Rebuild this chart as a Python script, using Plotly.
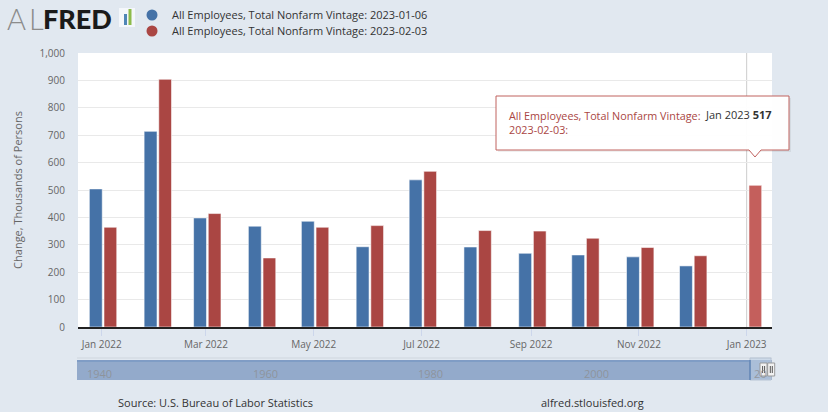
import plotly.graph_objects as go

# ---------------- data ----------------
months = ["2022-01-01", "2022-02-01", "2022-03-01", "2022-04-01", "2022-05-01", "2022-06-01",
          "2022-07-01", "2022-08-01", "2022-09-01", "2022-10-01", "2022-11-01", "2022-12-01",
          "2023-01-01"]
vintage_0106 = [504, 714, 398, 368, 386, 293, 537, 292, 269, 263, 256, 223, None]
vintage_0203 = [364, 904, 414, 252, 364, 370, 568, 352, 350, 324, 290, 260, 517]
name_0106 = "All Employees, Total Nonfarm Vintage: 2023-01-06"
name_0203 = "All Employees, Total Nonfarm Vintage: 2023-02-03"
tick_vals = ["2022-01-01", "2022-03-01", "2022-05-01", "2022-07-01", "2022-09-01",
             "2022-11-01", "2023-01-01"]
tick_text = ["Jan 2022", "Mar 2022", "May 2022", "Jul 2022", "Sep 2022", "Nov 2022", "Jan 2023"]
y_ticks = list(range(0, 1001, 100))
nav_years = ["1940", "1960", "1980", "2000", "20"]

BLUE = "#4572a7"
RED = "#aa4643"
RED_HOVER = "#c45f5c"
FONT = "Open Sans"
DAY = 86400000

L, T, PW, PH = 78, 53, 694, 274


def px(xp):
    return (xp - L) / PW


def py(yp):
    return (T + PH - yp) / PH


fig = go.Figure()

fig.add_trace(go.Bar(
    x=months, y=vintage_0106, name=name_0106, showlegend=False,
    marker=dict(color=BLUE, line=dict(color="rgba(255,255,255,0.55)", width=1)),
    offset=-7.0 * DAY, width=7.3 * DAY,
))
red_colors = [RED] * (len(months) - 1) + [RED_HOVER]
fig.add_trace(go.Bar(
    x=months, y=vintage_0203, name=name_0203, showlegend=False,
    marker=dict(color=red_colors, line=dict(color="rgba(255,255,255,0.55)", width=1)),
    offset=1.3 * DAY, width=7.2 * DAY,
))
# legend entries with circle markers
for nm, col, lg in [(name_0106, BLUE, "legend"), (name_0203, RED, "legend2")]:
    fig.add_trace(go.Scatter(x=[None], y=[None], mode="markers", name=nm, legend=lg,
                             marker=dict(color=col, size=11, symbol="circle")))

shapes = []
# crosshair at hovered point
shapes.append(dict(type="line", xref="x", yref="paper", x0=months[-1], x1=months[-1],
                   y0=0, y1=1, line=dict(color="#cccccc", width=1), layer="below"))
# navigator
shapes.append(dict(type="rect", xref="paper", yref="paper", x0=px(77), x1=px(772),
                   y0=py(380), y1=py(360), fillcolor="#93aacb", line=dict(width=0), layer="below"))
shapes.append(dict(type="line", xref="paper", yref="paper", x0=px(77), x1=px(772),
                   y0=py(358), y1=py(358), line=dict(color="#cfd6de", width=1)))
shapes.append(dict(type="line", xref="paper", yref="paper", x0=px(77), x1=px(750),
                   y0=py(361), y1=py(361), line=dict(color="#6d8fbf", width=1)))
shapes.append(dict(type="rect", xref="paper", yref="paper", x0=px(750), x1=px(771),
                   y0=py(380), y1=py(358), fillcolor="rgba(190,205,228,0.55)",
                   line=dict(color="#b8c4d4", width=1)))
shapes.append(dict(type="line", xref="paper", yref="paper", x0=px(750), x1=px(750),
                   y0=py(380), y1=py(360), line=dict(color="#5b80b3", width=1.5)))
for hx in (760, 767.7):
    shapes.append(dict(type="rect", xref="paper", yref="paper", x0=px(hx), x1=px(hx + 7),
                       y0=py(376), y1=py(363), fillcolor="#f2f2f2", line=dict(color="#999999", width=1)))
    for off in (2.6, 4.6):
        shapes.append(dict(type="line", xref="paper", yref="paper", x0=px(hx + off), x1=px(hx + off),
                           y0=py(373), y1=py(366), line=dict(color="#555555", width=1)))
# tooltip box
shapes.append(dict(type="rect", xref="paper", yref="paper", x0=px(498), x1=px(791),
                   y0=py(152), y1=py(98), fillcolor="rgba(0,0,0,0.06)", line=dict(width=0)))
shapes.append(dict(type="path", xref="paper", yref="paper",
                   path=f"M {px(496)},{py(96)} L {px(789)},{py(96)} L {px(789)},{py(150)} "
                        f"L {px(761)},{py(150)} L {px(755)},{py(157)} L {px(749)},{py(150)} "
                        f"L {px(496)},{py(150)} Z",
                   fillcolor="rgba(255,255,255,0.97)", line=dict(color="#c0625f", width=1)))
# logo icon
shapes.append(dict(type="rect", xref="paper", yref="paper", x0=px(119), x1=px(135),
                   y0=py(27), y1=py(8), fillcolor="#f4f7fb", line=dict(width=0)))
shapes.append(dict(type="rect", xref="paper", yref="paper", x0=px(124), x1=px(127),
                   y0=py(25), y1=py(14), fillcolor="#4f86b6", line=dict(width=0)))
shapes.append(dict(type="rect", xref="paper", yref="paper", x0=px(128.5), x1=px(131.5),
                   y0=py(25), y1=py(9), fillcolor="#8dbb4b", line=dict(width=0)))

annotations = []
nav_x = [99, 265, 430, 596, 760]
for lbl, xp in zip(nav_years, nav_x):
    annotations.append(dict(text=lbl, x=px(xp), y=py(373), xref="paper", yref="paper", showarrow=False,
                            xanchor="center", yanchor="middle",
                            font=dict(family=FONT, size=11, color="rgba(140,140,140,0.75)")))
annotations.append(dict(text="All Employees, Total Nonfarm Vintage:<br>2023-02-03:",
                        x=px(507), y=py(106), xref="paper", yref="paper", showarrow=False,
                        xanchor="left", yanchor="top", align="left",
                        font=dict(family=FONT, size=10.8, color=RED)))
annotations.append(dict(text=f"Jan 2023 <b>{vintage_0203[-1]}</b>",
                        x=px(774), y=py(115), xref="paper", yref="paper", showarrow=False,
                        xanchor="right", yanchor="middle",
                        font=dict(family=FONT, size=11, color="#333333")))
# ALFRED wordmark
annotations.append(dict(text="A", x=px(5), y=py(18), xref="paper", yref="paper",
                        showarrow=False, xanchor="left", yanchor="middle",
                        font=dict(family="Lato", size=29, color="#8c8c8c", weight=300)))
annotations.append(dict(text="L", x=px(27), y=py(18), xref="paper", yref="paper",
                        showarrow=False, xanchor="left", yanchor="middle",
                        font=dict(family="Lato", size=29, color="#8c8c8c", weight=300)))
annotations.append(dict(text="FRED", x=px(41), y=py(18), xref="paper", yref="paper",
                        showarrow=False, xanchor="left", yanchor="middle",
                        font=dict(family="Lato", size=27, color="#1a1a1a", weight=900)))
annotations.append(dict(text="Source: U.S. Bureau of Labor Statistics", x=px(116),
                        y=py(402), xref="paper", yref="paper", showarrow=False,
                        xanchor="left", yanchor="middle",
                        font=dict(family=FONT, size=11, color="#333333")))
annotations.append(dict(text="alfred.stlouisfed.org", x=px(539),
                        y=py(402), xref="paper", yref="paper", showarrow=False,
                        xanchor="left", yanchor="middle",
                        font=dict(family=FONT, size=11, color="#333333")))

legend_common = dict(xanchor="left", yanchor="middle", bgcolor="rgba(0,0,0,0)",
                     font=dict(family=FONT, size=11, color="#333333"), itemwidth=30)

fig.update_layout(
    width=828, height=412,
    margin=dict(l=L, r=828 - L - PW, t=T, b=412 - T - PH, autoexpand=False),
    paper_bgcolor="#e1e8f0", plot_bgcolor="#ffffff",
    font=dict(family=FONT, size=10, color="#666666"),
    barmode="overlay",
    showlegend=True,
    legend=dict(x=px(132), y=py(15), **legend_common),
    legend2=dict(x=px(132), y=py(31), **legend_common),
    xaxis=dict(type="date", range=["2021-12-18 14:00", "2023-01-15 08:00"],
               tickvals=tick_vals, ticktext=tick_text, ticks="outside", ticklen=7,
               tickcolor="#ccd6eb", showgrid=False, showline=True, linecolor="#222222",
               linewidth=2, zeroline=False, automargin=False,
               tickfont=dict(size=10, color="#666666")),
    yaxis=dict(range=[0, 1000], tickvals=y_ticks, tickformat=",", showgrid=True,
               gridcolor="#e9e9e9", gridwidth=1, zeroline=False, ticks="",
               ticklabelstandoff=12, automargin=False, tickfont=dict(size=10, color="#666666")),
)
fig.update_yaxes(title=dict(text="Change, Thousands of Persons", standoff=14,
                            font=dict(size=11, color="#666666")))
fig.update_layout(shapes=shapes, annotations=annotations, hovermode=False)

fig.write_html("out.html", config={"displayModeBar": False},
               post_script="document.body.style.margin='0';document.body.style.padding='0';")
